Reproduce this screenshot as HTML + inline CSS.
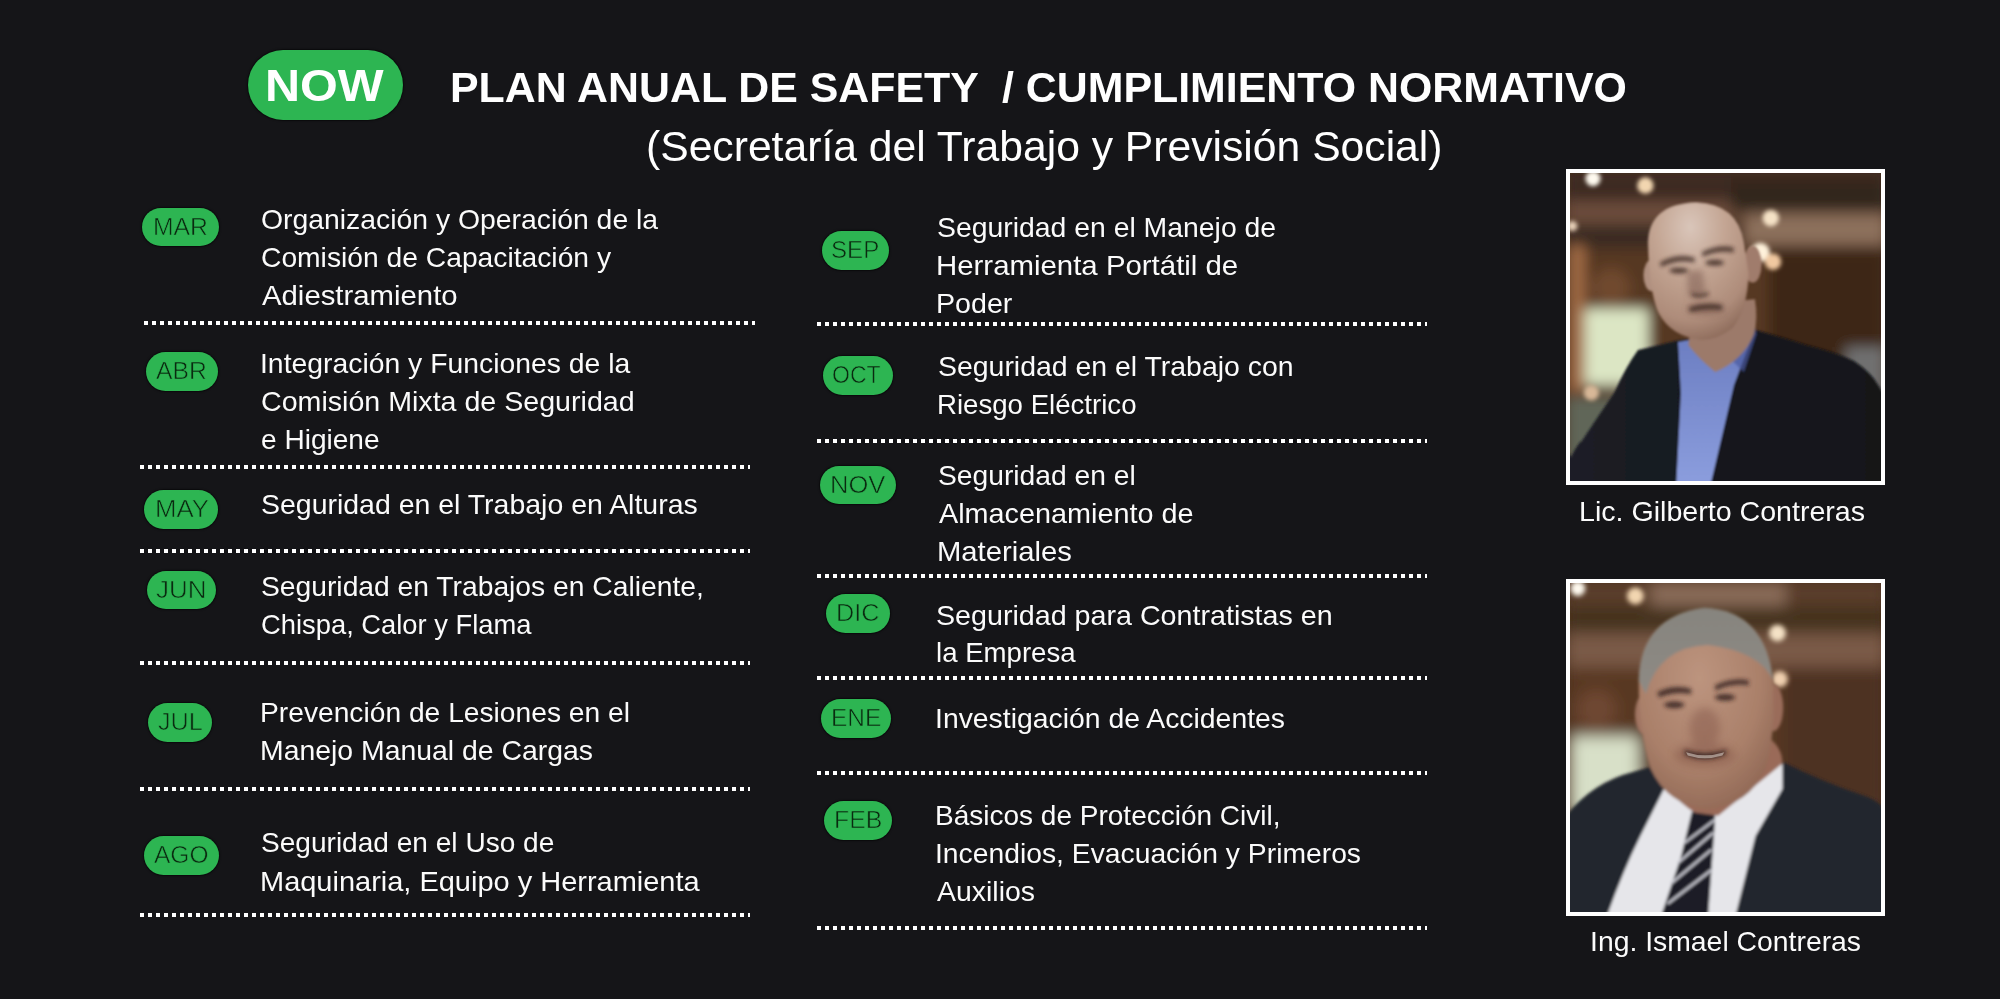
<!DOCTYPE html>
<html><head><meta charset="utf-8">
<style>
html,body{margin:0;padding:0;}
body{width:2000px;height:999px;overflow:hidden;position:relative;background:#151518;font-family:"Liberation Sans",sans-serif;color:#fff;}
.t{position:absolute;white-space:pre;line-height:1;transform-origin:0 0;}
.pill{position:absolute;background:#2db552;border-radius:40px;box-shadow:0 0 1.5px 1px rgba(0,0,0,0.55);}
.dots{position:absolute;height:4.25px;background:repeating-linear-gradient(90deg,#fff 0,#fff 4.25px,transparent 4.25px,transparent 8px);}
.now{position:absolute;left:248px;top:50px;width:155px;height:70px;background:#2db552;border-radius:35px;box-shadow:0 0 1.5px 1px rgba(0,0,0,0.55);}
.frame{position:absolute;background:#fff;}
.frame svg{position:absolute;left:4px;top:4px;display:block;}
</style></head><body>
<div class="now"></div>
<div class="pill" style="left:142.00px;top:208.00px;width:76.50px;height:38.00px"></div>
<div class="dots" style="left:144px;top:320.50px;width:611px"></div>
<div class="pill" style="left:145.70px;top:351.80px;width:71.90px;height:39.20px"></div>
<div class="dots" style="left:140px;top:464.50px;width:610px"></div>
<div class="pill" style="left:144.40px;top:490.00px;width:74.00px;height:39.00px"></div>
<div class="dots" style="left:140px;top:548.50px;width:610px"></div>
<div class="pill" style="left:147.00px;top:570.60px;width:69.00px;height:38.40px"></div>
<div class="dots" style="left:140px;top:660.50px;width:610px"></div>
<div class="pill" style="left:148.00px;top:703.00px;width:64.00px;height:39.00px"></div>
<div class="dots" style="left:140px;top:787.00px;width:610px"></div>
<div class="pill" style="left:143.75px;top:836.00px;width:75.00px;height:38.50px"></div>
<div class="dots" style="left:140px;top:913.00px;width:610px"></div>
<div class="pill" style="left:822.00px;top:231.00px;width:67.00px;height:39.00px"></div>
<div class="dots" style="left:817px;top:322.00px;width:610px"></div>
<div class="pill" style="left:822.50px;top:356.00px;width:70.50px;height:39.00px"></div>
<div class="dots" style="left:817px;top:438.50px;width:610px"></div>
<div class="pill" style="left:820.00px;top:465.50px;width:75.50px;height:38.25px"></div>
<div class="dots" style="left:817px;top:574.00px;width:610px"></div>
<div class="pill" style="left:826.00px;top:593.75px;width:63.50px;height:38.75px"></div>
<div class="dots" style="left:817px;top:676.00px;width:610px"></div>
<div class="pill" style="left:820.50px;top:698.75px;width:70.50px;height:38.75px"></div>
<div class="dots" style="left:817px;top:771.00px;width:610px"></div>
<div class="pill" style="left:823.75px;top:801.00px;width:68.25px;height:39.00px"></div>
<div class="dots" style="left:817px;top:926.00px;width:610px"></div>

<div class="frame" style="left:1566px;top:169px;width:319px;height:316px"><svg width="311" height="308" viewBox="12.6 12.6 979.6 970.2" preserveAspectRatio="none">
<defs>
<filter id="b1" x="-20%" y="-20%" width="140%" height="140%"><feGaussianBlur stdDeviation="20"/></filter>
<filter id="b2" x="-50%" y="-50%" width="200%" height="200%"><feGaussianBlur stdDeviation="7"/></filter>
<filter id="b3" x="-20%" y="-20%" width="140%" height="140%"><feGaussianBlur stdDeviation="4"/></filter>
<filter id="b5" x="-50%" y="-50%" width="200%" height="200%"><feGaussianBlur stdDeviation="6"/></filter>
<filter id="b4" x="-50%" y="-50%" width="200%" height="200%"><feGaussianBlur stdDeviation="10"/></filter>
<radialGradient id="f1" cx="0.42" cy="0.18" r="0.85"><stop offset="0" stop-color="#dac6ba"/><stop offset="0.4" stop-color="#c4a694"/><stop offset="0.8" stop-color="#ae8c7a"/><stop offset="1" stop-color="#8e6c5c"/></radialGradient>
<linearGradient id="sh1" x1="0" y1="0" x2="0" y2="1"><stop offset="0" stop-color="#6a7cc0"/><stop offset="1" stop-color="#8c9ede"/></linearGradient>
<linearGradient id="suit1" x1="0" y1="0" x2="1" y2="0"><stop offset="0" stop-color="#1c1e26"/><stop offset="0.5" stop-color="#16181f"/><stop offset="1" stop-color="#121419"/></linearGradient>
</defs>
<rect x="0" y="0" width="1008" height="999" fill="#4c3222"/>
<g filter="url(#b1)">
<rect x="0" y="0" width="1008" height="110" fill="#3e2c20"/>
<rect x="0" y="100" width="540" height="80" fill="#6a4c3a"/>
<rect x="0" y="175" width="540" height="80" fill="#3a2a20"/>
<rect x="520" y="40" width="490" height="90" fill="#33261e"/>
<rect x="560" y="140" width="450" height="100" fill="#8c705c"/>
<rect x="0" y="250" width="1008" height="480" fill="#573824"/>
<rect x="640" y="250" width="370" height="430" fill="#3e2818"/>
<rect x="10" y="240" width="50" height="460" fill="#a06a44"/>
<rect x="60" y="440" width="200" height="240" fill="#dce6c4"/>
<circle cx="142" cy="372" r="60" fill="#70492f"/>
<rect x="0" y="720" width="260" height="280" fill="#606658"/>
<rect x="880" y="560" width="128" height="200" fill="#707070"/>
</g>
<g filter="url(#b2)">
<circle cx="85" cy="30" r="24" fill="#fffaf0"/>
<circle cx="250" cy="52" r="26" fill="#f2d6b0"/>
<circle cx="645" cy="155" r="26" fill="#f5e2c6"/>
<circle cx="612" cy="262" r="30" fill="#fff2dc"/>
<circle cx="652" cy="292" r="26" fill="#f0c8a0"/>
<circle cx="80" cy="705" r="24" fill="#d8b898"/>
<circle cx="20" cy="180" r="16" fill="#e8d0b8"/>
</g>
<g filter="url(#b3)">
<path d="M0 999 L0 880 L16 907 Q40 860 50 857 Q100 780 151 706 Q190 620 227 570 L353 540 L586 504 Q680 530 756 554 Q860 580 907 605 Q960 640 983 680 L1008 720 L1008 999 Z" fill="url(#suit1)"/>
<path d="M353 545 L586 500 L590 520 L529 680 L454 999 L347 999 L362 706 Z" fill="url(#sh1)"/>
<path d="M590 470 L600 520 L560 640 L520 600 Z" fill="#4a5aa0" opacity="0.7"/>
<path d="M400 430 L595 410 Q605 470 592 520 Q560 600 470 640 Q420 600 385 555 Z" fill="#9c7a6a"/>
<ellipse cx="270" cy="335" rx="26" ry="50" fill="#b09080"/>
<ellipse cx="588" cy="300" rx="28" ry="58" fill="#a07c6c"/>
<path d="M258 230 Q262 110 410 105 Q540 110 560 230 L575 330 Q572 440 525 500 Q475 540 420 538 Q330 525 292 455 Q262 390 258 230 Z" fill="url(#f1)"/>
</g>
<g filter="url(#b4)" fill="#6a4a40" opacity="0.4">
<path d="M380 320 L430 320 L440 400 L385 400 Z"/>
<ellipse cx="440" cy="440" rx="60" ry="20"/>
</g>
<g filter="url(#b5)" fill="#35241e" opacity="0.8">
<path d="M295 295 Q350 262 405 280 L405 294 Q350 282 300 308 Z"/>
<path d="M428 262 Q480 236 528 248 L528 262 Q480 254 430 276 Z"/>
<ellipse cx="355" cy="320" rx="30" ry="9"/>
<ellipse cx="468" cy="295" rx="30" ry="9"/>
<path d="M388 436 Q440 420 492 430 L490 443 Q440 436 390 450 Z"/>
<path d="M395 390 Q420 400 450 388 L448 398 Q420 410 396 400 Z"/>
</g>
</svg>
</div>
<div class="frame" style="left:1566px;top:579px;width:319px;height:337px"><svg width="311" height="329" viewBox="11.8 11.8 919.3 972.5" preserveAspectRatio="none">
<defs>
<filter id="c1" x="-20%" y="-20%" width="140%" height="140%"><feGaussianBlur stdDeviation="22"/></filter>
<filter id="c2" x="-50%" y="-50%" width="200%" height="200%"><feGaussianBlur stdDeviation="8"/></filter>
<filter id="c3" x="-20%" y="-20%" width="140%" height="140%"><feGaussianBlur stdDeviation="4"/></filter>
<filter id="c5" x="-50%" y="-50%" width="200%" height="200%"><feGaussianBlur stdDeviation="6"/></filter>
<filter id="c4" x="-50%" y="-50%" width="200%" height="200%"><feGaussianBlur stdDeviation="12"/></filter>
<radialGradient id="g1" cx="0.45" cy="0.35" r="0.75"><stop offset="0" stop-color="#bc947e"/><stop offset="0.6" stop-color="#aa806a"/><stop offset="1" stop-color="#8a6250"/></radialGradient>
<linearGradient id="hair" x1="0" y1="0" x2="0" y2="1"><stop offset="0" stop-color="#86847e"/><stop offset="1" stop-color="#8e8a84"/></linearGradient>
</defs>
<rect x="0" y="0" width="946" height="999" fill="#4a3020"/>
<g filter="url(#c1)">
<rect x="0" y="0" width="946" height="80" fill="#5a3e2c"/>
<rect x="250" y="10" width="400" height="70" fill="#8a6c58"/>
<rect x="0" y="80" width="946" height="90" fill="#45301f"/>
<rect x="0" y="160" width="946" height="110" fill="#7a5a46"/>
<rect x="0" y="260" width="946" height="420" fill="#583824"/>
<rect x="640" y="260" width="306" height="420" fill="#4e3220"/>
<rect x="15" y="465" width="200" height="240" fill="#d8e0c8"/>
<circle cx="90" cy="385" r="60" fill="#6e4630"/>
</g>
<g filter="url(#c2)">
<circle cx="35" cy="28" r="22" fill="#fffaf0"/>
<circle cx="205" cy="50" r="25" fill="#f2d6b0"/>
<circle cx="625" cy="160" r="25" fill="#f5e2c6"/>
<circle cx="632" cy="296" r="24" fill="#f0d0b0"/>
</g>
<g filter="url(#c3)">
<path d="M0 999 L0 700 Q80 600 200 570 L300 540 L420 620 L560 600 L640 540 Q760 600 880 640 Q940 660 946 700 L946 999 Z" fill="#23252d"/>
<path d="M290 620 L380 690 L640 545 L640 620 L560 760 L500 999 L120 999 Q170 860 220 760 Z" fill="#e6e6ea"/>
<path d="M372 688 L440 690 L440 720 L420 999 L280 999 L340 820 Z" fill="#1c1e28"/>
<g stroke="#c8c8d0" stroke-width="7" fill="none">
<path d="M300 960 L430 860"/><path d="M310 900 L430 800"/><path d="M330 840 L435 750"/><path d="M350 780 L440 712"/>
</g>
<path d="M280 560 Q300 640 380 690 L450 700 L640 545 Q640 500 600 470 L300 480 Z" fill="#9a6a58"/>
<ellipse cx="232" cy="400" rx="28" ry="60" fill="#a07462"/>
<ellipse cx="612" cy="380" rx="30" ry="70" fill="#9a6c5a"/>
<path d="M215 300 Q220 110 410 85 Q590 95 612 300 Q620 460 590 560 Q540 670 420 680 Q300 670 250 560 Q215 460 215 300 Z" fill="url(#g1)"/>
<path d="M215 300 Q220 110 410 85 Q590 95 612 300 Q575 215 420 195 Q275 200 236 340 Z" fill="url(#hair)"/>
</g>
<g filter="url(#c4)" fill="#6a3a30" opacity="0.3">
<ellipse cx="410" cy="440" rx="45" ry="60"/>
<ellipse cx="410" cy="520" rx="90" ry="35"/>
</g>
<g filter="url(#c5)" fill="#2e1e1a" opacity="0.8">
<path d="M270 335 Q320 310 370 325 L370 340 Q320 330 275 350 Z"/>
<path d="M440 315 Q490 290 540 300 L540 314 Q490 306 442 330 Z"/>
<ellipse cx="320" cy="372" rx="30" ry="10"/>
<ellipse cx="470" cy="350" rx="30" ry="10"/>
<path d="M350 505 Q410 525 475 505 L470 520 Q410 545 352 520 Z"/>
</g>
<path d="M355 512 Q410 530 468 512 L462 522 Q410 538 360 522 Z" fill="#f0e8e0" opacity="0.5"/>
</svg>
</div>
<div class="t" style="left:152.97px;top:214.93px;font-size:24.0px;font-weight:normal;color:#0a2a10;transform:scaleX(1.0308);-webkit-text-stroke:0.6px #2db552">MAR</div>
<div class="t" style="left:260.99px;top:206.29px;font-size:28.0px;font-weight:normal;color:#fbfbfb;transform:scaleX(1.0124)">Organización y Operación de la</div>
<div class="t" style="left:260.99px;top:244.29px;font-size:28.0px;font-weight:normal;color:#fbfbfb;transform:scaleX(1.0085)">Comisión de Capacitación y</div>
<div class="t" style="left:262.00px;top:282.29px;font-size:28.0px;font-weight:normal;color:#fbfbfb;transform:scaleX(1.0473)">Adiestramiento</div>
<div class="t" style="left:156.00px;top:359.33px;font-size:24.0px;font-weight:normal;color:#0a2a10;transform:scaleX(1.0282);-webkit-text-stroke:0.6px #2db552">ABR</div>
<div class="t" style="left:259.98px;top:349.79px;font-size:28.0px;font-weight:normal;color:#fbfbfb;transform:scaleX(1.0121)">Integración y Funciones de la</div>
<div class="t" style="left:260.98px;top:387.79px;font-size:28.0px;font-weight:normal;color:#fbfbfb;transform:scaleX(1.0216)">Comisión Mixta de Seguridad</div>
<div class="t" style="left:261.00px;top:425.79px;font-size:28.0px;font-weight:normal;color:#fbfbfb;transform:scaleX(1.0023)">e Higiene</div>
<div class="t" style="left:154.53px;top:497.43px;font-size:24.0px;font-weight:normal;color:#0a2a10;transform:scaleX(1.0728);-webkit-text-stroke:0.6px #2db552">MAY</div>
<div class="t" style="left:260.98px;top:490.59px;font-size:28.0px;font-weight:normal;color:#fbfbfb;transform:scaleX(1.0165)">Seguridad en el Trabajo en Alturas</div>
<div class="t" style="left:156.00px;top:577.73px;font-size:24.0px;font-weight:normal;color:#0a2a10;transform:scaleX(1.0809);-webkit-text-stroke:0.6px #2db552">JUN</div>
<div class="t" style="left:260.99px;top:572.79px;font-size:28.0px;font-weight:normal;color:#fbfbfb;transform:scaleX(1.0087)">Seguridad en Trabajos en Caliente,</div>
<div class="t" style="left:261.02px;top:610.79px;font-size:28.0px;font-weight:normal;color:#fbfbfb;transform:scaleX(0.9768)">Chispa, Calor y Flama</div>
<div class="t" style="left:158.00px;top:710.43px;font-size:24.0px;font-weight:normal;color:#0a2a10;transform:scaleX(1.0512);-webkit-text-stroke:0.6px #2db552">JUL</div>
<div class="t" style="left:259.99px;top:699.29px;font-size:28.0px;font-weight:normal;color:#fbfbfb;transform:scaleX(1.0072)">Prevención de Lesiones en el</div>
<div class="t" style="left:259.97px;top:737.29px;font-size:28.0px;font-weight:normal;color:#fbfbfb;transform:scaleX(1.0141)">Manejo Manual de Cargas</div>
<div class="t" style="left:154.25px;top:843.18px;font-size:24.0px;font-weight:normal;color:#0a2a10;transform:scaleX(1.0204);-webkit-text-stroke:0.6px #2db552">AGO</div>
<div class="t" style="left:261.00px;top:829.29px;font-size:28.0px;font-weight:normal;color:#fbfbfb;transform:scaleX(1.0023)">Seguridad en el Uso de</div>
<div class="t" style="left:259.93px;top:867.79px;font-size:28.0px;font-weight:normal;color:#fbfbfb;transform:scaleX(1.0347)">Maquinaria, Equipo y Herramienta</div>
<div class="t" style="left:831.49px;top:238.43px;font-size:24.0px;font-weight:normal;color:#0a2a10;transform:scaleX(1.0051);-webkit-text-stroke:0.6px #2db552">SEP</div>
<div class="t" style="left:937.49px;top:214.29px;font-size:28.0px;font-weight:normal;color:#fbfbfb;transform:scaleX(1.0132)">Seguridad en el Manejo de</div>
<div class="t" style="left:936.40px;top:252.29px;font-size:28.0px;font-weight:normal;color:#fbfbfb;transform:scaleX(1.0497)">Herramienta Portátil de</div>
<div class="t" style="left:936.46px;top:289.79px;font-size:28.0px;font-weight:normal;color:#fbfbfb;transform:scaleX(1.0222)">Poder</div>
<div class="t" style="left:832.29px;top:363.43px;font-size:24.0px;font-weight:normal;color:#0a2a10;transform:scaleX(0.9600);-webkit-text-stroke:0.6px #2db552">OCT</div>
<div class="t" style="left:937.98px;top:352.79px;font-size:28.0px;font-weight:normal;color:#fbfbfb;transform:scaleX(1.0153)">Seguridad en el Trabajo con</div>
<div class="t" style="left:937.03px;top:390.79px;font-size:28.0px;font-weight:normal;color:#fbfbfb;transform:scaleX(0.9863)">Riesgo Eléctrico</div>
<div class="t" style="left:830.19px;top:472.55px;font-size:24.0px;font-weight:normal;color:#0a2a10;transform:scaleX(1.0637);-webkit-text-stroke:0.6px #2db552">NOV</div>
<div class="t" style="left:937.99px;top:461.79px;font-size:28.0px;font-weight:normal;color:#fbfbfb;transform:scaleX(1.0081)">Seguridad en el</div>
<div class="t" style="left:939.00px;top:499.79px;font-size:28.0px;font-weight:normal;color:#fbfbfb;transform:scaleX(1.0287)">Almacenamiento de</div>
<div class="t" style="left:936.91px;top:537.79px;font-size:28.0px;font-weight:normal;color:#fbfbfb;transform:scaleX(1.0443)">Materiales</div>
<div class="t" style="left:836.45px;top:601.05px;font-size:24.0px;font-weight:normal;color:#0a2a10;transform:scaleX(1.0500);-webkit-text-stroke:0.6px #2db552">DIC</div>
<div class="t" style="left:935.98px;top:601.79px;font-size:28.0px;font-weight:normal;color:#fbfbfb;transform:scaleX(1.0234)">Seguridad para Contratistas en</div>
<div class="t" style="left:936.01px;top:639.29px;font-size:28.0px;font-weight:normal;color:#fbfbfb;transform:scaleX(0.9855)">la Empresa</div>
<div class="t" style="left:830.73px;top:706.05px;font-size:24.0px;font-weight:normal;color:#0a2a10;transform:scaleX(1.0192);-webkit-text-stroke:0.6px #2db552">ENE</div>
<div class="t" style="left:935.47px;top:704.79px;font-size:28.0px;font-weight:normal;color:#fbfbfb;transform:scaleX(1.0128)">Investigación de Accidentes</div>
<div class="t" style="left:833.96px;top:808.43px;font-size:24.0px;font-weight:normal;color:#0a2a10;transform:scaleX(1.0354);-webkit-text-stroke:0.6px #2db552">FEB</div>
<div class="t" style="left:935.00px;top:801.79px;font-size:28.0px;font-weight:normal;color:#fbfbfb;transform:scaleX(1.0002)">Básicos de Protección Civil,</div>
<div class="t" style="left:934.98px;top:839.79px;font-size:28.0px;font-weight:normal;color:#fbfbfb;transform:scaleX(1.0101)">Incendios, Evacuación y Primeros</div>
<div class="t" style="left:937.00px;top:877.79px;font-size:28.0px;font-weight:normal;color:#fbfbfb;transform:scaleX(1.0159)">Auxilios</div>
<div class="t" style="left:265.32px;top:63.54px;font-size:44.6px;font-weight:bold;color:#ffffff;transform:scaleX(1.0891)">NOW</div>
<div class="t" style="left:450.01px;top:65.59px;font-size:43px;font-weight:bold;color:#ffffff;transform:scaleX(0.9972)">PLAN ANUAL DE SAFETY  / CUMPLIMIENTO NORMATIVO</div>
<div class="t" style="left:646.02px;top:124.59px;font-size:43px;font-weight:normal;color:#ffffff;transform:scaleX(0.9919)">(Secretaría del Trabajo y Previsión Social)</div>
<div class="t" style="left:1578.96px;top:497.79px;font-size:28px;font-weight:normal;color:#fbfbfb;transform:scaleX(1.0213)">Lic. Gilberto Contreras</div>
<div class="t" style="left:1589.97px;top:927.79px;font-size:28px;font-weight:normal;color:#fbfbfb;transform:scaleX(1.0126)">Ing. Ismael Contreras</div>

</body></html>
